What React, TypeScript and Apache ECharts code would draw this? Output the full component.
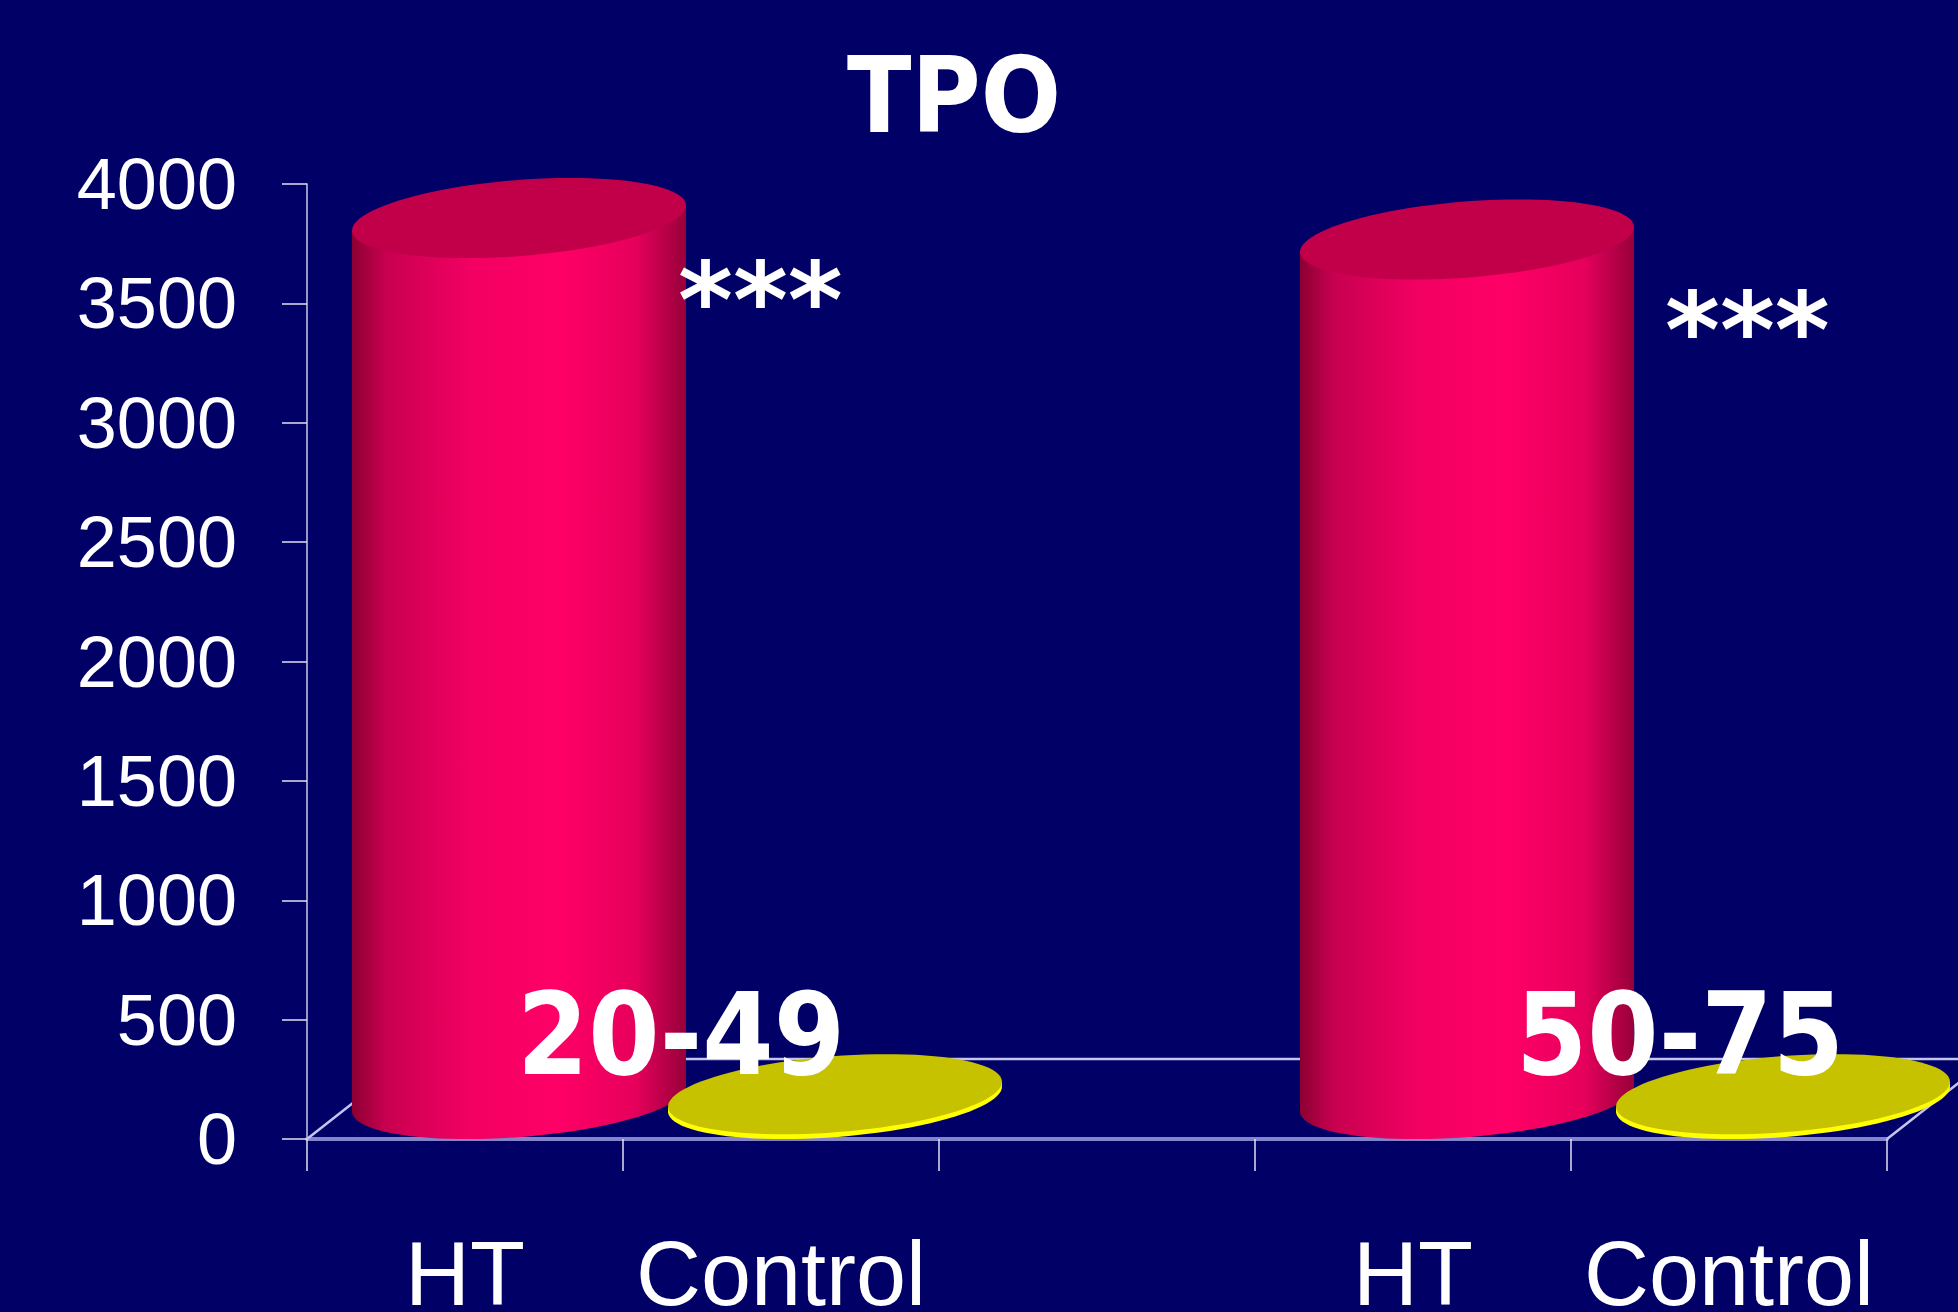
import React, { useEffect, useRef } from 'react';
import * as echarts from 'echarts';

// ---- data ----
const categories = ['HT', 'Control', '', 'HT', 'Control'];
const htValues: (number | null)[] = [3690, null, null, 3600, null];
const controlValues: (number | null)[] = [null, 20, null, null, 20];
const yMin = 0;
const yMax = 4000;
const yInterval = 500;
const titleText = 'TPO';
const groupLabels = ['20-49', '50-75'];
const significance = ['***', '***'];

// ---- 3D look (style) ----
const DEPTH_DX = 102;
const DEPTH_DY = -80;
const CENTER_SHIFT = 54;
const TILT = (4.5 * Math.PI) / 180;
const RY = 38;

function ellipsePoints(cx: number, cy: number, rx: number, ry: number, th: number) {
  const pts: number[][] = [];
  const n = 96;
  for (let i = 0; i < n; i++) {
    const t = (i / n) * Math.PI * 2;
    const x = rx * Math.cos(t);
    const y = ry * Math.sin(t);
    pts.push([cx + x * Math.cos(th) + y * Math.sin(th), cy - x * Math.sin(th) + y * Math.cos(th)]);
  }
  return pts;
}

function tangentPoints(cx: number, cy: number, rx: number, ry: number, th: number) {
  const t0 = Math.atan2(ry * Math.sin(th), rx * Math.cos(th));
  const p = (t: number) => {
    const x = rx * Math.cos(t);
    const y = ry * Math.sin(t);
    return [cx + x * Math.cos(th) + y * Math.sin(th), cy - x * Math.sin(th) + y * Math.cos(th)];
  };
  return { right: p(t0), left: p(t0 + Math.PI) };
}

function makeCylinder(sideFill: any, bottomFill: any, topFill: string) {
  return (params: any, api: any) => {
    const idx = api.value(0);
    const v = api.value(1);
    const base = api.coord([idx, 0]);
    const top = api.coord([idx, v]);
    const band = api.size([1, 0])[0];
    const rx = band * 0.53;
    const cx = base[0] + CENTER_SHIFT;
    const by = base[1] + DEPTH_DY / 2;
    const ty = top[1] + DEPTH_DY / 2;
    const tb = tangentPoints(cx, by, rx, RY, TILT);
    const tt = tangentPoints(cx, ty, rx, RY, TILT);
    return {
      type: 'group',
      children: [
        {
          type: 'polygon',
          shape: { points: ellipsePoints(cx, by, rx, RY, TILT) },
          style: { fill: bottomFill, stroke: null },
        },
        {
          type: 'polygon',
          shape: { points: [tt.left, tt.right, tb.right, tb.left] },
          style: { fill: sideFill, stroke: null },
        },
        {
          type: 'polygon',
          shape: { points: ellipsePoints(cx, ty, rx, RY, TILT) },
          style: { fill: topFill, stroke: null },
        },
      ],
    };
  };
}

const redSide = () =>
  new echarts.graphic.LinearGradient(0, 0, 1, 0, [
    { offset: 0, color: '#8c0032' },
    { offset: 0.1, color: '#c80050' },
    { offset: 0.35, color: '#f20062' },
    { offset: 0.62, color: '#ff0066' },
    { offset: 0.85, color: '#e6005c' },
    { offset: 1, color: '#98003a' },
  ]);

const floorRender = (params: any, api: any) => {
  const cs = params.coordSys;
  const x0 = cs.x;
  const x1 = cs.x + cs.width;
  const y0 = cs.y + cs.height;
  return {
    type: 'polyline',
    shape: {
      points: [
        [x0, y0],
        [x0 + DEPTH_DX, y0 + DEPTH_DY],
        [x1 + DEPTH_DX, y0 + DEPTH_DY],
        [x1, y0],
      ],
    },
    style: { stroke: '#c4c4ee', lineWidth: 2.5, fill: null },
  };
};

export default function App() {
  const ref = useRef<HTMLDivElement>(null);
  useEffect(() => {
    const chart = echarts.init(ref.current!, null, { renderer: 'svg' });
    const htData = htValues
      .map((v, i) => (v == null ? null : [i, v]))
      .filter((d) => d != null);
    const ctrlData = controlValues
      .map((v, i) => (v == null ? null : [i, v]))
      .filter((d) => d != null);
    const bodyFont = "'DejaVu Sans Condensed', 'DejaVu Sans', sans-serif";
    chart.setOption({
      animation: false,
      backgroundColor: '#000066',
      grid: {
        left: 307,
        right: 71,
        top: 184,
        bottom: 173,
        containLabel: false,
        outerBoundsMode: 'none',
      },
      xAxis: {
        type: 'category',
        data: categories,
        boundaryGap: true,
        axisLine: { show: true, lineStyle: { color: '#8484cc', width: 4 } },
        axisTick: { show: true, length: 32, interval: 0, lineStyle: { color: '#e0e0f4', width: 1.5 } },
        axisLabel: {
          interval: 0,
          color: '#ffffff',
          fontSize: 90,
          lineHeight: 64,
          fontFamily: "'Liberation Sans', Arial, sans-serif",
          margin: 103,
        },
        splitLine: { show: false },
      },
      yAxis: {
        type: 'value',
        min: yMin,
        max: yMax,
        interval: yInterval,
        axisLine: { show: true, lineStyle: { color: '#c8c8e8', width: 1.5 } },
        axisTick: { show: true, length: 25, lineStyle: { color: '#e0e0f4', width: 1.5 } },
        axisLabel: {
          color: '#ffffff',
          fontSize: 72,
          fontFamily: "'Liberation Sans', Arial, sans-serif",
          margin: 70,
          formatter: (v: number) => String(v),
        },
        splitLine: { show: false },
      },
      series: [
        {
          type: 'custom',
          name: 'floor',
          data: [[0, 0]],
          encode: { x: 0, y: 1 },
          renderItem: floorRender,
          z: 1,
          silent: true,
        },
        {
          type: 'custom',
          name: 'HT',
          data: htData,
          encode: { x: 0, y: 1 },
          renderItem: makeCylinder(redSide(), redSide(), '#c2004a'),
          z: 3,
        },
        {
          type: 'custom',
          name: 'Control',
          data: ctrlData,
          encode: { x: 0, y: 1 },
          renderItem: makeCylinder('#ffff00', '#ffff00', '#c6c200'),
          z: 3,
        },
      ],
      graphic: [
        {
          type: 'text',
          x: 954,
          y: 96,
          z: 100,
          style: {
            text: titleText,
            fill: '#ffffff',
            fontSize: 105,
            fontWeight: 'bold',
            fontFamily: bodyFont,
            textAlign: 'center',
            textVerticalAlign: 'middle',
          },
        },
        {
          type: 'text',
          x: 678,
          y: 301,
          z: 100,
          style: {
            text: significance[0],
            fill: '#ffffff',
            fontSize: 105,
            fontWeight: 'bold',
            fontFamily: "'DejaVu Sans', sans-serif",
            textAlign: 'left',
            textVerticalAlign: 'middle',
          },
        },
        {
          type: 'text',
          x: 1665,
          y: 331,
          z: 100,
          style: {
            text: significance[1],
            fill: '#ffffff',
            fontSize: 105,
            fontWeight: 'bold',
            fontFamily: "'DejaVu Sans', sans-serif",
            textAlign: 'left',
            textVerticalAlign: 'middle',
          },
        },
        {
          type: 'text',
          x: 517,
          y: 1034,
          z: 100,
          style: {
            text: groupLabels[0],
            fill: '#ffffff',
            fontSize: 114,
            fontWeight: 'bold',
            fontFamily: bodyFont,
            textAlign: 'left',
            textVerticalAlign: 'middle',
          },
        },
        {
          type: 'text',
          x: 1516,
          y: 1034,
          z: 100,
          style: {
            text: groupLabels[1],
            fill: '#ffffff',
            fontSize: 114,
            fontWeight: 'bold',
            fontFamily: bodyFont,
            textAlign: 'left',
            textVerticalAlign: 'middle',
          },
        },
      ],
    });
    return () => chart.dispose();
  }, []);
  return (
    <div
      ref={ref}
      style={{ position: 'fixed', left: 0, top: 0, width: 1958, height: 1312 }}
    />
  );
}
